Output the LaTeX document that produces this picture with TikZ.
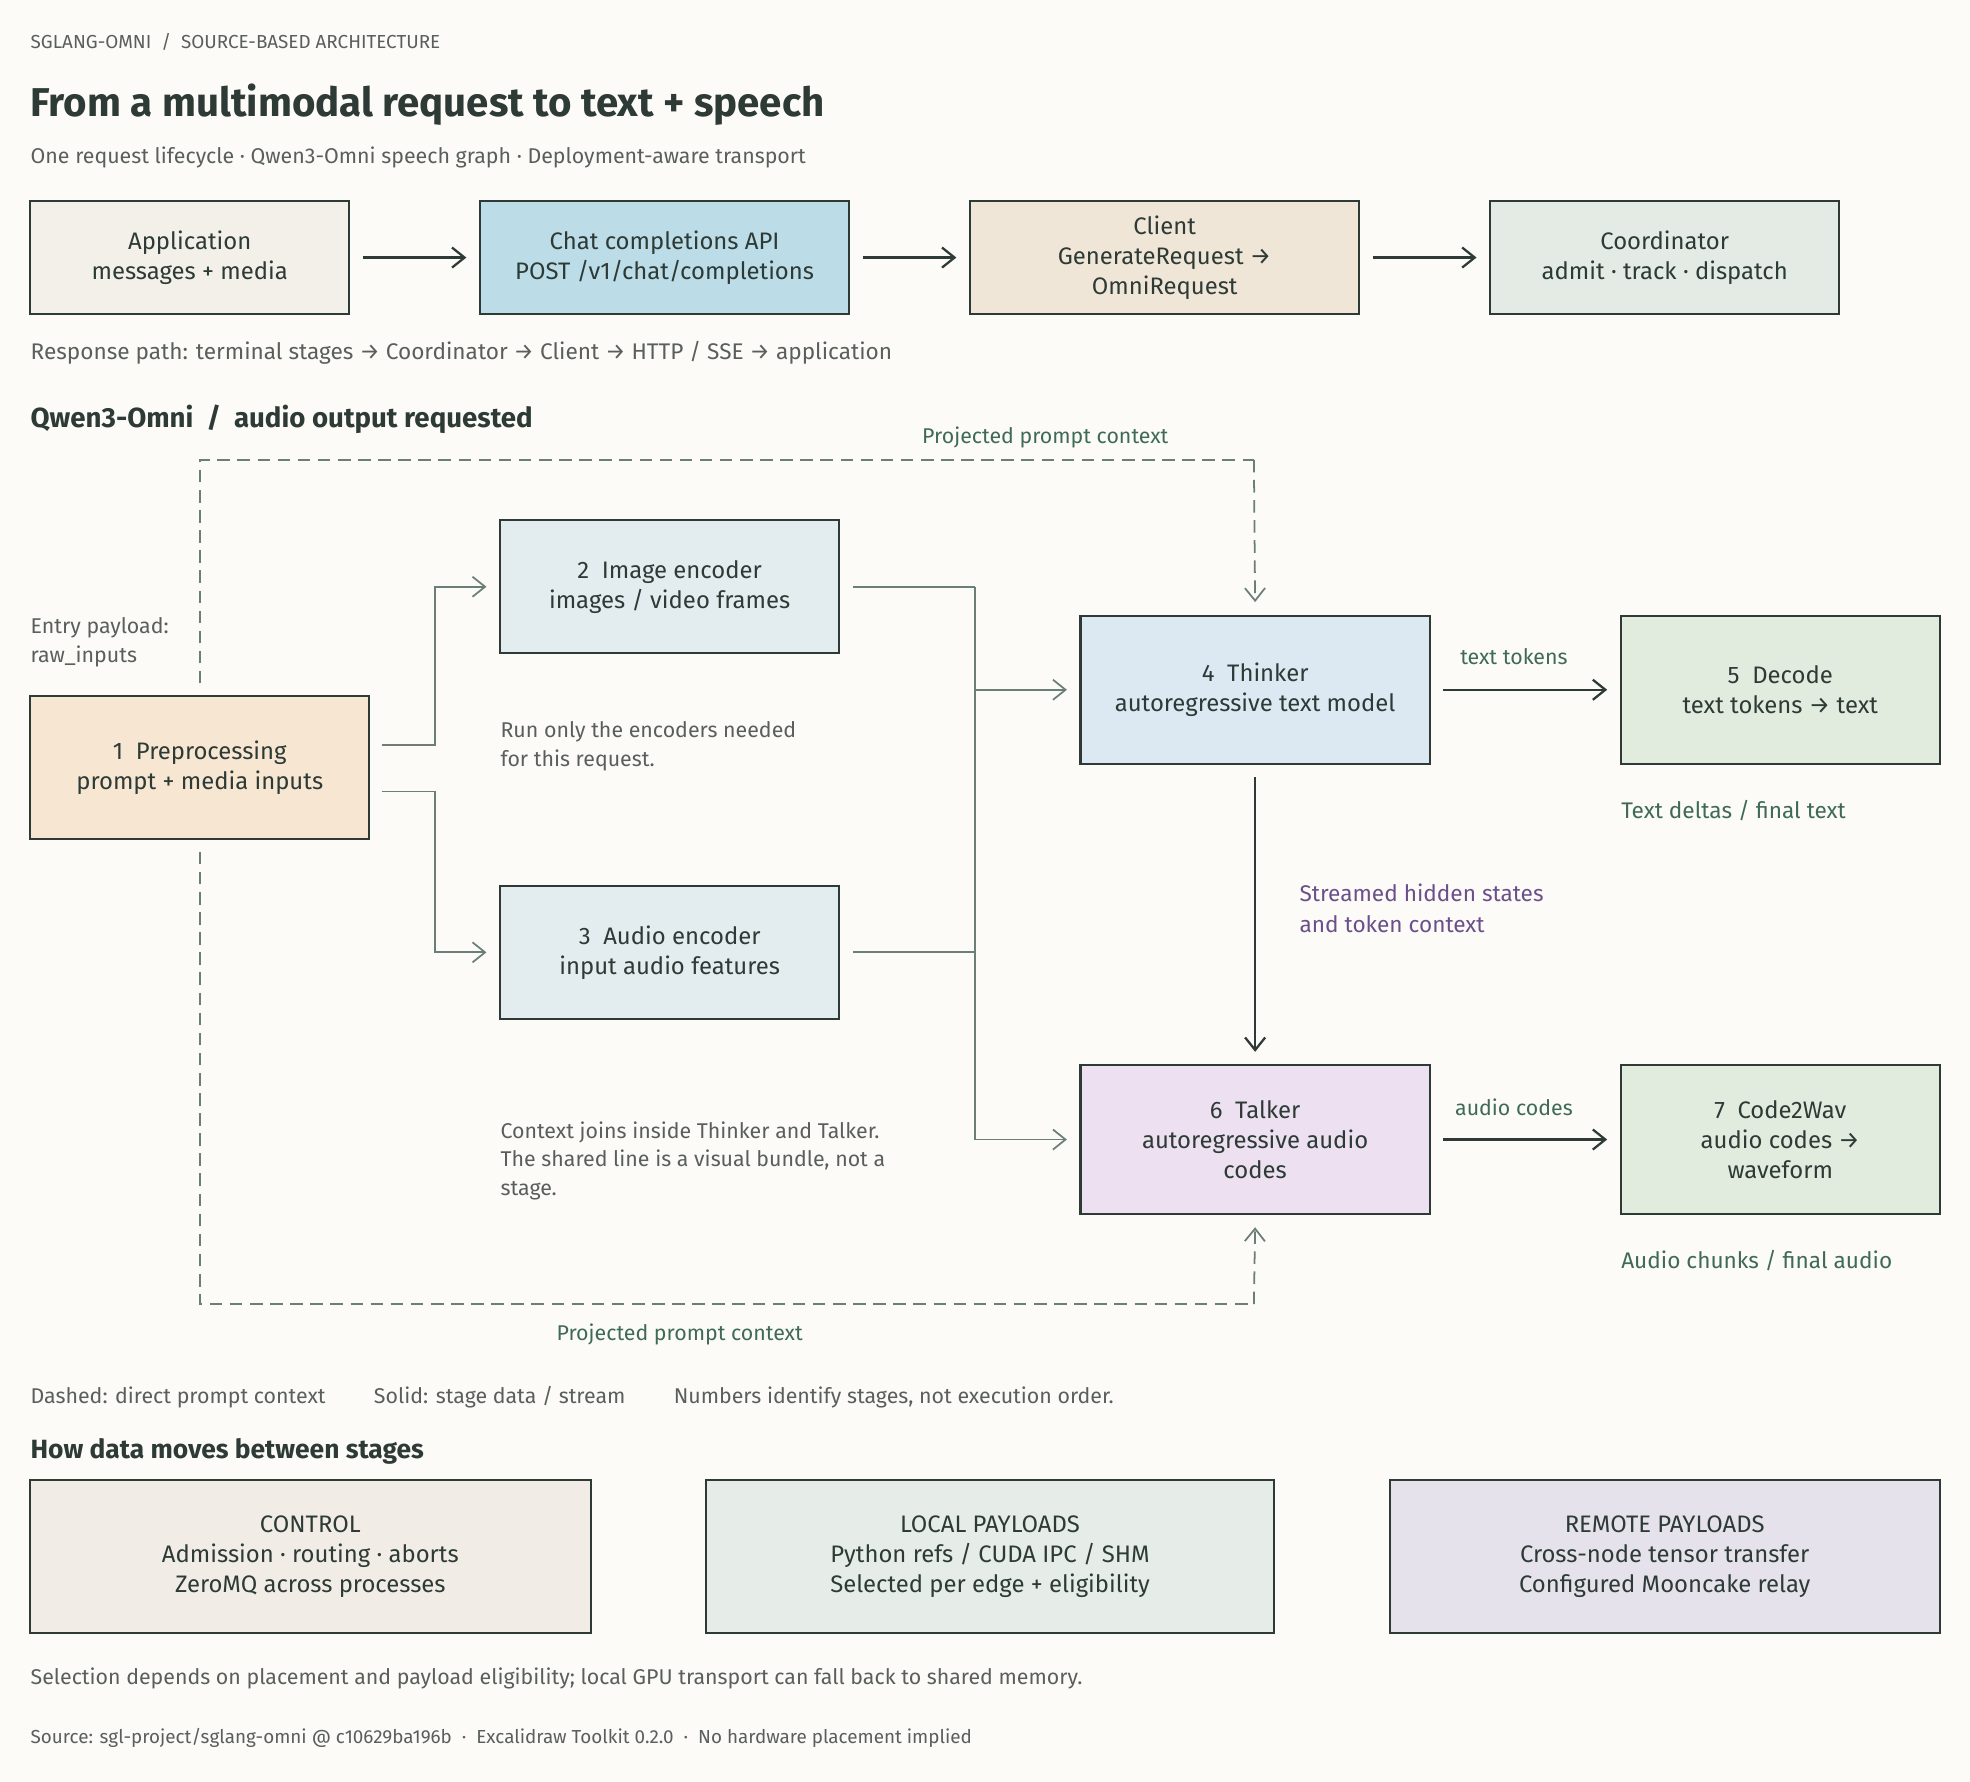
\documentclass[tikz,border=0pt]{standalone}
\usepackage{fontspec}
\setmainfont{Fira Sans}
\usetikzlibrary{arrows.meta}
\definecolor{ink}{HTML}{2D3A35}
\definecolor{grey}{HTML}{5A5F5C}
\definecolor{edge}{HTML}{6B7F77}
\definecolor{grn}{HTML}{3F6B55}
\definecolor{pur}{HTML}{6B4F8A}
\tikzset{
 box/.style={draw=ink,line width=0.8pt,align=center,font=\fontsize{9.5}{12}\selectfont,text=ink,inner sep=2pt},
 note/.style={anchor=west,align=left,font=\fontsize{8.5}{11.5}\selectfont,text=grey,inner sep=0},
 lab/.style={font=\fontsize{8.5}{11}\selectfont,inner sep=0},
 conn/.style={draw=edge,line width=0.7pt,-{Straight Barb[length=5pt,width=8pt]}},
 plain/.style={draw=edge,line width=0.7pt},
 dashline/.style={draw=edge,line width=0.7pt,dash pattern=on 5pt off 3pt},
 dark/.style={draw=ink,line width=0.9pt,-{Straight Barb[length=5pt,width=8pt]}}
}
\begin{document}
\begin{tikzpicture}[x=0.5pt,y=-0.5pt]
\useasboundingbox (0,0) rectangle (1568,1418);
\fill[color={rgb,255:red,252;green,251;blue,248}] (0,0) rectangle (1568,1418);
\node[note,font=\fontsize{7.5}{9}\selectfont] (hdr) at (24,33) {SGLANG-OMNI \ / \ SOURCE-BASED ARCHITECTURE};
\node[note,font=\fontsize{16}{19}\bfseries\selectfont,text=ink] (ttl) at (24,83) {From a multimodal request to text + speech};
\node[note] (sub) at (24,125) {One request lifecycle · Qwen3-Omni speech graph · Deployment-aware transport};
% top row
\node[box,fill={rgb,255:red,243;green,239;blue,233},minimum width=127pt,minimum height=45pt] (app) at (151,205) {Application\\messages + media};
\node[box,fill={rgb,255:red,188;green,220;blue,232},minimum width=147pt,minimum height=45pt] (api) at (529,205) {Chat completions API\\POST /v1/chat/completions};
\node[box,fill={rgb,255:red,240;green,230;blue,216},minimum width=155pt,minimum height=45pt] (cli) at (927,205) {Client\\GenerateRequest →\\OmniRequest};
\node[box,fill={rgb,255:red,228;green,235;blue,229},minimum width=139pt,minimum height=45pt] (coo) at (1325,205) {Coordinator\\admit · track · dispatch};
\draw[dark] ([xshift=5pt]app.east) -- ([xshift=-5pt]api.west);
\draw[dark] ([xshift=5pt]api.east) -- ([xshift=-5pt]cli.west);
\draw[dark] ([xshift=5pt]cli.east) -- ([xshift=-5pt]coo.west);
\node[note,font=\fontsize{9}{11}\selectfont] (resp) at (24,281) {Response path: terminal stages → Coordinator → Client → HTTP / SSE → application};
\node[note,font=\fontsize{11}{13}\bfseries\selectfont,text=ink] (sec) at (24,334) {Qwen3-Omni \ / \ audio output requested};
% graph
\node[box,fill={rgb,255:red,247;green,230;blue,209},minimum width=135pt,minimum height=57pt] (pre) at (159,611) {1\ \ Preprocessing\\prompt + media inputs};
\node[box,fill={rgb,255:red,227;green,237;blue,240},minimum width=135pt,minimum height=53pt] (img) at (533,467) {2\ \ Image encoder\\images / video frames};
\node[box,fill={rgb,255:red,227;green,237;blue,240},minimum width=135pt,minimum height=53pt] (aud) at (533,758) {3\ \ Audio encoder\\input audio features};
\node[box,fill={rgb,255:red,220;green,233;blue,242},minimum width=139pt,minimum height=59pt] (thk) at (999,549) {4\ \ Thinker\\autoregressive text model};
\node[box,fill={rgb,255:red,225;green,236;blue,223},minimum width=127pt,minimum height=59pt] (dec) at (1417,549) {5\ \ Decode\\text tokens → text};
\node[box,fill={rgb,255:red,236;green,224;blue,241},minimum width=139pt,minimum height=59pt] (tlk) at (999,907) {6\ \ Talker\\autoregressive audio\\codes};
\node[box,fill={rgb,255:red,225;green,236;blue,223},minimum width=127pt,minimum height=59pt] (c2w) at (1417,907) {7\ \ Code2Wav\\audio codes →\\waveform};
\coordinate (j1) at (346,593); \coordinate (j2) at (346,630);
\coordinate (bus) at (776,467);
\draw[conn] (304,593) -- (j1) |- ([xshift=-5pt]img.west);
\draw[conn] (304,630) -- (j2) |- ([xshift=-5pt]aud.west);
\draw[plain] ([xshift=5pt]img.east) -- (bus);
\draw[plain] ([xshift=5pt]aud.east) -- (776,758);
\draw[conn] (bus) |- ([xshift=-5pt]thk.west);
\draw[conn] (776,549) |- ([xshift=-5pt]tlk.west);
\draw[dashline] (159,544) -- (159,366) -- (998,366);
\draw[dashline,-{Straight Barb[length=5pt,width=8pt]}] (998,366) -- ([yshift=5pt]thk.north);
\draw[dashline] (159,678) -- (159,1038) -- (998,1038);
\draw[dashline,-{Straight Barb[length=5pt,width=8pt]}] (998,1038) -- ([yshift=-5pt]tlk.south);
\draw[dark] ([yshift=-5pt]thk.south) -- ([yshift=5pt]tlk.north);
\draw[dark] ([xshift=5pt]thk.east) -- ([xshift=-5pt]dec.west);
\draw[dark] ([xshift=5pt]tlk.east) -- ([xshift=-5pt]c2w.west);
\node[lab,text=grn] (l1) at (832,348) {Projected prompt context};
\node[lab,text=grn] (l2) at (541,1062) {Projected prompt context};
\node[note] (ep) at (24,511) {Entry payload:\\raw\_inputs};
\node[note] (run) at (398,594) {Run only the encoders needed\\for this request.};
\node[note] (ctx) at (398,924) {Context joins inside Thinker and Talker.\\The shared line is a visual bundle, not a\\stage.};
\node[lab,text=grn] (tt) at (1205,523) {text tokens};
\node[lab,text=grn] (ac) at (1205,881) {audio codes};
\node[note,text=pur,font=\fontsize{9}{12}\selectfont] (sh) at (1034,723) {Streamed hidden states\\and token context};
\node[note,text=grn,font=\fontsize{9}{11}\selectfont] (td) at (1290,645) {Text deltas / final text};
\node[note,text=grn,font=\fontsize{9}{11}\selectfont] (ad) at (1290,1003) {Audio chunks / final audio};
\node[note] (leg) at (24,1112) {Dashed: direct prompt context \qquad Solid: stage data / stream \qquad Numbers identify stages, not execution order.};
\node[note,font=\fontsize{10.5}{13}\bfseries\selectfont,text=ink] (how) at (24,1155) {How data moves between stages};
\node[box,fill={rgb,255:red,241;green,236;blue,230},minimum width=223pt,minimum height=61pt] (ctl) at (247,1239) {CONTROL\\Admission · routing · aborts\\ZeroMQ across processes};
\node[box,fill={rgb,255:red,230;green,236;blue,231},minimum width=226pt,minimum height=61pt] (loc) at (788,1239) {LOCAL PAYLOADS\\Python refs / CUDA IPC / SHM\\Selected per edge + eligibility};
\node[box,fill={rgb,255:red,229;green,226;blue,236},minimum width=219pt,minimum height=61pt] (rem) at (1325,1239) {REMOTE PAYLOADS\\Cross-node tensor transfer\\Configured Mooncake relay};
\node[note] (sel) at (24,1336) {Selection depends on placement and payload eligibility; local GPU transport can fall back to shared memory.};
\node[note,font=\fontsize{7.5}{9}\selectfont] (src) at (24,1383) {Source: sgl-project/sglang-omni @ c10629ba196b \ · \ Excalidraw Toolkit 0.2.0 \ · \ No hardware placement implied};
\end{tikzpicture}
\end{document}
